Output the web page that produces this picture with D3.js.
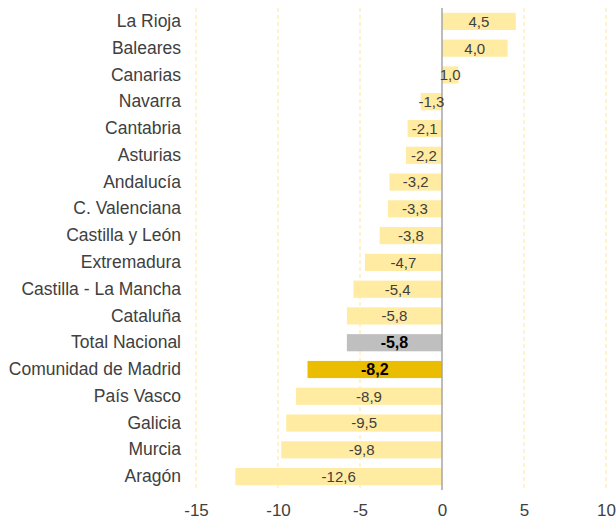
<!DOCTYPE html>
<html><head><meta charset="utf-8">
<script src="https://cdn.jsdelivr.net/npm/d3@7"></script>
<style>body{margin:0;background:#fff}svg{display:block}</style>
</head><body><div id="c"></div>
<script>
const categories = ["La Rioja","Baleares","Canarias","Navarra","Cantabria","Asturias","Andalucía","C. Valenciana","Castilla y León","Extremadura","Castilla - La Mancha","Cataluña","Total Nacional","Comunidad de Madrid","País Vasco","Galicia","Murcia","Aragón"];
const values = [4.5,4.0,1.0,-1.3,-2.1,-2.2,-3.2,-3.3,-3.8,-4.7,-5.4,-5.8,-5.8,-8.2,-8.9,-9.5,-9.8,-12.6];
const xTicks = [-15,-10,-5,0,5,10];
const highlight = {"Total Nacional":"#BFBFBF","Comunidad de Madrid":"#EABD00"};

const W=616,H=519;
const svg=d3.select("#c").append("svg").attr("width",W).attr("height",H);
const x=d3.scaleLinear().domain([-15,10]).range([196,606]);
const y=d3.scaleBand().domain(categories).range([8,490]).paddingInner(0.36).paddingOuter(0.18);
const fmt=v=>d3.format(".1f")(v).replace(".",",").replace("−","-");

// gridlines
svg.append("g").selectAll("line").data(xTicks.filter(t=>t!==0)).join("line")
 .attr("x1",d=>x(d)).attr("x2",d=>x(d)).attr("y1",8).attr("y2",490)
 .attr("stroke","#FFE699").attr("stroke-width",1).attr("stroke-dasharray","4,3");

const data=categories.map((c,i)=>({c,v:values[i]}));
svg.append("g").selectAll("rect").data(data).join("rect")
 .attr("x",d=>x(Math.min(0,d.v))).attr("width",d=>Math.abs(x(d.v)-x(0)))
 .attr("y",d=>y(d.c)).attr("height",y.bandwidth())
 .attr("fill",d=>highlight[d.c]||"#FFEBA1");

// zero line
svg.append("line").attr("x1",x(0)).attr("x2",x(0)).attr("y1",8).attr("y2",490)
 .attr("stroke","#A6A6A6").attr("stroke-width",1.5);

// value labels
svg.append("g").selectAll("text").data(data).join("text")
 .attr("x",d=>(x(d.v)+x(0))/2).attr("y",d=>y(d.c)+y.bandwidth()/2)
 .attr("dy","0.36em").attr("text-anchor","middle")
 .attr("font-family","Liberation Sans, Arial, sans-serif")
 .attr("font-size",d=>highlight[d.c]?16:15)
 .attr("font-weight",d=>highlight[d.c]?"bold":"normal")
 .attr("fill",d=>highlight[d.c]?"#000":"#404040")
 .text(d=>fmt(d.v));

// category labels
const ya=svg.append("g").attr("transform","translate(181,0)")
 .call(d3.axisLeft(y).tickSize(0).tickPadding(0));
ya.select(".domain").remove();
ya.selectAll("text").attr("font-family","Liberation Sans, Arial, sans-serif").attr("font-size",17.5).attr("fill","#404040");

// x axis labels
const xa=svg.append("g").attr("transform","translate(0,0)")
 .call(d3.axisBottom(x).tickValues(xTicks).tickSize(0).tickPadding(0).tickFormat(d=>String(d)));
xa.select(".domain").remove();
xa.selectAll("text").attr("font-family","Liberation Sans, Arial, sans-serif").attr("font-size",17).attr("fill","#404040").attr("dy",null).attr("y",515.5);
</script></body></html>
